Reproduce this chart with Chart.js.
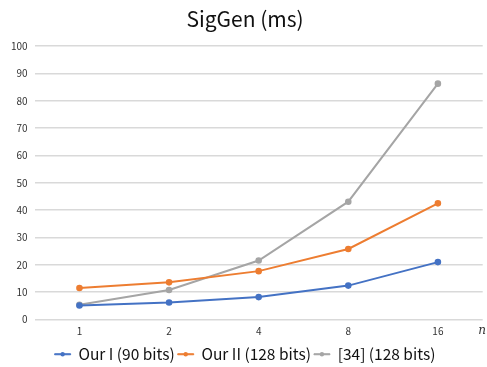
<!DOCTYPE html>
<html>
<head>
<meta charset="utf-8">
<script src="https://cdn.jsdelivr.net/npm/chart.js@4/dist/chart.umd.min.js"></script>
<style>
  body { margin: 0; background: #fff; }
  #wrap { width: 487px; height: 367px; }
</style>
</head>
<body>
<div id="wrap"><canvas id="sigchart"></canvas></div>
<script>
const categories = ['1', '2', '4', '8', '16'];
const ourOne = [5.1, 6.2, 8.2, 12.4, 21.0];
const ourTwo = [11.5, 13.6, 17.7, 25.8, 42.5];
const ref34 = [5.4, 10.8, 21.6, 43.1, 86.3];
const seriesNames = ['Our I (90 bits)', 'Our II (128 bits)', '[34] (128 bits)'];
const seriesColors = ['#4472C4', '#ED7D31', '#A5A5A5'];

const fontFam = '"Noto Sans CJK SC", "Noto Sans", sans-serif';

// legend line + dot, and the "n" label at the end of the x axis
const extras = {
    id: 'extras',
    afterDraw(chart) {
        const ctx = chart.ctx;
        const boxes = chart.legend.legendHitBoxes;
        ctx.save();
        boxes.forEach((b, i) => {
            ctx.fillStyle = seriesColors[i];
            ctx.beginPath();
            ctx.arc(b.left + 8, b.top + b.height / 2, 2.2, 0, Math.PI * 2);
            ctx.fill();
        });
        const xs = chart.scales.x;
        ctx.fillStyle = '#333';
        ctx.font = 'italic 12px "DejaVu Serif", serif';
        ctx.textAlign = 'center';
        ctx.textBaseline = 'middle';
        ctx.fillText('n', 482, xs.top + 11);
        ctx.restore();
    }
};

const makeSet = (i, data) => ({
    label: seriesNames[i],
    data: data,
    borderColor: seriesColors[i],
    backgroundColor: seriesColors[i],
    borderWidth: 2,
    pointRadius: 2.3,
    pointHoverRadius: 2.3,
    tension: 0
});

new Chart(document.getElementById('sigchart'), {
    type: 'line',
    data: {
        labels: categories,
        datasets: [makeSet(0, ourOne), makeSet(1, ourTwo), makeSet(2, ref34)]
    },
    options: {
        responsive: true,
        maintainAspectRatio: false,
        animation: false,
        layout: { padding: { left: 4, right: 1, top: 4, bottom: -5 } },
        scales: {
            x: {
                offset: true,
                grid: { display: false, drawTicks: false },
                border: { display: false },
                ticks: { color: '#333', font: { family: fontFam, size: 10 }, padding: 6 }
            },
            y: {
                min: 0,
                max: 100,
                grid: { color: '#d9d9d9', lineWidth: 1.5, drawTicks: false },
                border: { display: false },
                ticks: { stepSize: 10, color: '#333', font: { family: fontFam, size: 10 }, padding: 7 }
            }
        },
        plugins: {
            title: {
                display: true,
                text: 'SigGen (ms)',
                color: '#111',
                font: { family: fontFam, size: 21, weight: 'normal' },
                padding: { top: 2, bottom: 15 }
            },
            legend: {
                position: 'bottom',
                labels: {
                    boxWidth: 16,
                    boxHeight: 1,
                    padding: 3,
                    color: '#111',
                    font: { family: fontFam, size: 15.5 },
                    generateLabels(chart) {
                        return Chart.defaults.plugins.legend.labels.generateLabels(chart)
                            .map(item => Object.assign(item, { lineWidth: 1 }));
                    }
                }
            },
            tooltip: { enabled: false }
        }
    },
    plugins: [extras]
});
</script>
</body>
</html>
